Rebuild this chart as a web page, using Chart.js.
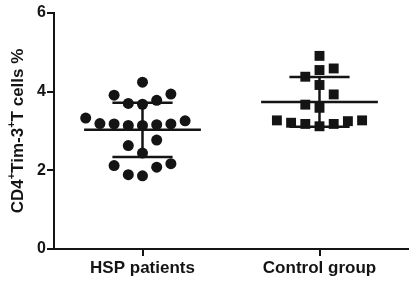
<!DOCTYPE html>
<html>
<head>
<meta charset="utf-8">
<script src="https://cdn.jsdelivr.net/npm/chart.js@4.4.1/dist/chart.umd.min.js"></script>
<style>
html, body { margin: 0; padding: 0; background: #fff; }
#wrap { width: 415px; height: 283px; }
</style>
</head>
<body>
<div id="wrap"><canvas id="tim3Chart"></canvas></div>
<script>
const groups = ['HSP patients', 'Control group'];

// CD4+Tim-3+ T cells %
const hspValues = [4.24, 3.91, 3.94, 3.68, 3.70, 3.78, 3.26, 3.19, 3.16, 3.14, 3.33,
    3.14, 3.18, 3.18, 2.63, 2.77, 2.44, 2.17, 2.08, 1.86, 1.89, 2.12];
const controlValues = [4.91, 4.55, 4.59, 4.38, 4.17, 3.93, 3.67, 3.59, 3.27, 3.25,
    3.18, 3.12, 3.18, 3.21, 3.27];

// mean and SD bars
const groupMeans = [3.03, 3.74];
const groupSDs = [0.69, 0.63];

const yTicks = [0, 2, 4, 6];

const INK = '#141414';
const FONT = '"Liberation Sans", Arial, sans-serif';

/* ===== scatter spreading (Prism style) ===== */
const PX_PER_Y = 39.2;
const PX_PER_X = 179.5;
const COL_PX = 14.4;
const MIN_GAP = 14;

function swarm(values, center) {
    const placed = [];
    values.slice().sort((a, b) => a - b).forEach(v => {
        const y = v * PX_PER_Y;
        for (let k = 0; k < 40; k++) {
            const col = k === 0 ? 0 : (k % 2 ? -Math.ceil(k / 2) : k / 2);
            const x = col * COL_PX;
            const hit = placed.some(p => Math.hypot(p.x - x, p.y - y) < MIN_GAP);
            if (!hit) {
                placed.push({ x: x, y: y, v: v });
                break;
            }
        }
    });
    return placed.map(p => ({ x: center + p.x / PX_PER_X, y: p.v }));
}

function hLine(x, y, half) {
    return [{ x: x - half, y: y }, { x: x + half, y: y }];
}

const barSets = [];
groupMeans.forEach((m, i) => {
    const cx = i + 1;
    const sd = groupSDs[i];
    [hLine(cx, m, 0.33), hLine(cx, m + sd, 0.17), hLine(cx, m - sd, 0.17),
     [{ x: cx, y: m - sd }, { x: cx, y: m + sd }]].forEach(d => {
        barSets.push({
            data: d,
            showLine: true,
            borderColor: INK,
            borderWidth: 2.5,
            pointRadius: 0,
            borderCapStyle: 'butt'
        });
    });
});

/* ===== y title with superscripts ===== */
const yTitlePlugin = {
    id: 'yTitle',
    afterDraw(chart) {
        const ctx = chart.ctx;
        const area = chart.chartArea;
        const parts = [
            ['CD4', false], ['+', true], ['Tim-3', false], ['+', true], ['T cells %', false]
        ];
        const big = 'bold 17px ' + FONT;
        const small = 'bold 11px ' + FONT;

        ctx.save();
        let total = 0;
        const widths = parts.map(p => {
            ctx.font = p[1] ? small : big;
            const w = ctx.measureText(p[0]).width;
            total += w;
            return w;
        });
        ctx.translate(18, (area.top + area.bottom) / 2);
        ctx.rotate(-Math.PI / 2);
        ctx.fillStyle = INK;
        ctx.textBaseline = 'middle';
        ctx.textAlign = 'left';
        let x = -total / 2;
        parts.forEach((p, i) => {
            ctx.font = p[1] ? small : big;
            ctx.fillText(p[0], x, p[1] ? -6 : 0);
            x += widths[i];
        });
        ctx.restore();
    }
};

const ctx = document.getElementById('tim3Chart');

new Chart(ctx, {
    type: 'scatter',

    plugins: [yTitlePlugin],

    data: {
        datasets: [
            ...barSets,
            {
                label: groups[0],
                data: swarm(hspValues, 1),
                pointStyle: 'circle',
                pointRadius: 5.5,
                backgroundColor: INK,
                borderWidth: 0
            },
            {
                label: groups[1],
                data: swarm(controlValues, 2),
                pointStyle: 'rect',
                pointRadius: 7,
                backgroundColor: INK,
                borderWidth: 0
            }
        ]
    },

    options: {
        responsive: true,
        maintainAspectRatio: false,
        animation: false,

        layout: {
            padding: { left: 20, top: 13, right: 2, bottom: 0 }
        },

        plugins: {
            legend: { display: false },
            tooltip: { enabled: false }
        },

        scales: {
            x: {
                type: 'linear',
                min: 0.5,
                max: 2.5,
                afterBuildTicks: (scale) => {
                    scale.ticks = groups.map((g, i) => ({ value: i + 1 }));
                },
                afterFit: (scale) => { scale.height = 34; },
                ticks: {
                    autoSkip: false,
                    maxRotation: 0,
                    padding: 2,
                    color: INK,
                    font: { family: FONT, size: 17, weight: 'bold' },
                    callback: (v) => groups[Math.round(v) - 1]
                },
                grid: {
                    display: true,
                    drawOnChartArea: false,
                    drawTicks: true,
                    tickLength: 7,
                    color: INK,
                    lineWidth: 2
                },
                border: { display: true, color: INK, width: 2 }
            },
            y: {
                min: 0,
                max: 6,
                afterBuildTicks: (scale) => {
                    scale.ticks = yTicks.map(v => ({ value: v }));
                },
                afterFit: (scale) => { scale.width = 34; },
                ticks: {
                    padding: 1,
                    color: INK,
                    font: { family: FONT, size: 16, weight: 'bold' }
                },
                grid: {
                    display: true,
                    drawOnChartArea: false,
                    drawTicks: true,
                    tickLength: 7,
                    color: INK,
                    lineWidth: 2
                },
                border: { display: true, color: INK, width: 2 }
            }
        }
    }
});
</script>
</body>
</html>
